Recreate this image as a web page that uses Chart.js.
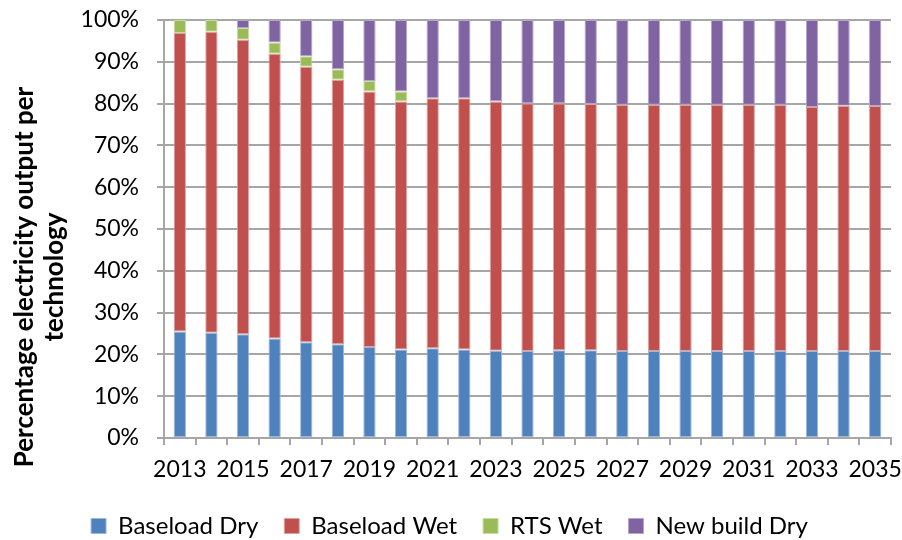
<!DOCTYPE html>
<html>
<head>
<meta charset="utf-8">
<script src="https://cdn.jsdelivr.net/npm/chart.js@4"></script>
<style>
  html,body{margin:0;padding:0;background:#fff;}
  #wrap{width:902px;height:540px;}
</style>
</head>
<body>
<div id="wrap"><canvas id="c" width="902" height="540"></canvas></div>
<script>
// categories and shares (%)
const years = ['2013','2014','2015','2016','2017','2018','2019','2020','2021','2022','2023','2024',
  '2025','2026','2027','2028','2029','2030','2031','2032','2033','2034','2035'];
const baseloadDry = [25.5,25.2,24.8,23.8,22.9,22.4,21.8,21.2,21.5,21.2,20.9,20.8,21.0,21.0,20.8,20.8,20.8,20.8,20.8,20.8,20.8,20.8,20.8];
const baseloadWet = [71.4,72.0,70.5,68.1,65.9,63.3,61.1,59.3,59.8,60.1,59.6,59.2,59.0,58.9,58.9,58.9,58.9,58.9,58.9,58.9,58.4,58.7,58.6];
const rtsWet      = [3.1,2.8,2.8,2.7,2.5,2.5,2.5,2.4,0,0,0,0,0,0,0,0,0,0,0,0,0,0,0];
const newBuildDry = [0,0,1.9,5.4,8.7,11.8,14.6,17.1,18.7,18.7,19.5,20.0,20.0,20.1,20.3,20.3,20.3,20.3,20.3,20.3,20.8,20.5,20.6];
const yTicks = [0,10,20,30,40,50,60,70,80,90,100];
const yTitle = ['Percentage electricity output per','technology'];

const font = "Lato, 'Open Sans', sans-serif";
const gridCol = '#a6a6a6';

function ds(label, data, color, border){
  return {label:label, data:data, backgroundColor:color, borderColor:border, borderWidth:1,
    borderSkipped:false, barPercentage:0.39, categoryPercentage:1.0};
}

// y title sits lower than the plot's middle in the original, so draw it by hand
const yTitlePlugin = {
  id:'yTitle',
  afterDraw(chart){
    const ctx = chart.ctx;
    ctx.save();
    ctx.translate(25, 277);
    ctx.rotate(-Math.PI/2);
    ctx.font = 'bold 26px ' + font;
    ctx.fillStyle = '#000';
    ctx.textAlign = 'center';
    ctx.textBaseline = 'middle';
    yTitle.forEach((t,i)=>ctx.fillText(t, 0, i*30));
    ctx.restore();
  }
};

new Chart(document.getElementById('c'), {
  type:'bar',
  data:{
    labels: years,
    datasets:[
      ds('Baseload Dry', baseloadDry, '#4f81bd', '#9fb8d9'),
      ds('Baseload Wet', baseloadWet, '#c0504d', '#dea3a1'),
      ds('RTS Wet', rtsWet, '#9bbb59', '#c9dba6'),
      ds('New build Dry', newBuildDry, '#8064a2', '#b6a6cb')
    ]
  },
  plugins:[yTitlePlugin],
  options:{
    responsive:false,
    animation:false,
    layout:{padding:{top:20,right:11,left:8,bottom:-8}},
    plugins:{
      legend:{position:'bottom', labels:{font:{family:font,size:24}, color:'#000', boxWidth:15, boxHeight:15, padding:26, useBorderRadius:false}},
      tooltip:{enabled:false}
    },
    scales:{
      x:{
        stacked:true,
        grid:{display:true, drawOnChartArea:false, drawTicks:true, tickLength:7, color:gridCol, lineWidth:2, offset:true},
        border:{color:gridCol, width:2},
        ticks:{autoSkip:false, maxRotation:0, color:'#000', font:{family:font,size:23}, padding:11,
          callback:function(v,i){ return i%2===0 ? years[i] : ''; }},
        afterFit:function(ax){ ax.height = 50; ax.paddingLeft = 0; ax.paddingRight = 0; }
      },
      y:{
        stacked:true, min:0, max:100,
        afterBuildTicks:function(ax){ ax.ticks = yTicks.map(v=>({value:v})); },
        grid:{color:gridCol, lineWidth:2, tickLength:7},
        border:{color:gridCol, width:2},
        ticks:{color:'#000', font:{family:font,size:23}, padding:18, callback:v=>v+'%'},
        title:{display:false},
        afterFit:function(ax){ ax.width = 156; ax.paddingTop = 0; ax.paddingBottom = 0; }
      }
    }
  }
});
</script>
</body>
</html>
